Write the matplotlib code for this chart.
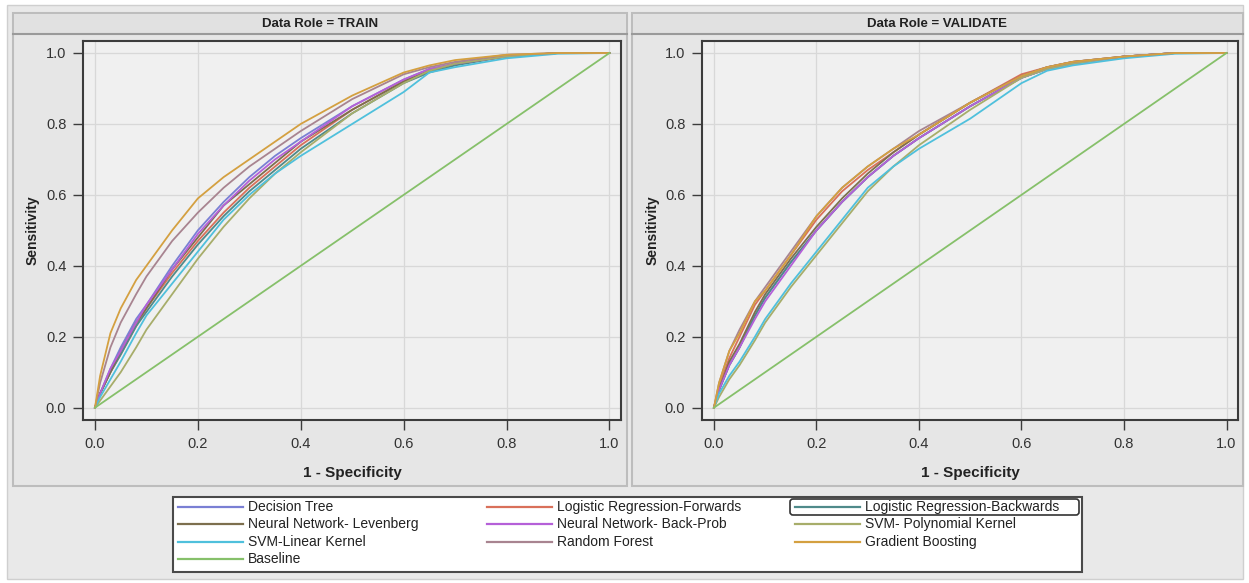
import matplotlib.pyplot as plt
from matplotlib.patches import Rectangle, FancyBboxPatch

plt.rcParams['font.family'] = ['Liberation Sans', 'DejaVu Sans']

# 1 - specificity points where the curves were read
fpr = [0, .01, .03, .05, .08, .1, .15, .2, .25, .3, .35, .4, .5, .6, .65, .7, .8, .9, 1.0]

# sensitivity, TRAIN
train_decision_tree = [0, .04, .11, .17, .25, .29, .40, .50, .58, .65, .71, .76, .85, .925, .955, .97, .99, 1, 1]
train_lr_forwards = [0, .04, .10, .15, .23, .28, .38, .47, .55, .62, .68, .74, .84, .92, .95, .97, .99, 1, 1]
train_lr_backwards = [0, .04, .10, .15, .23, .27, .37, .46, .54, .61, .67, .73, .83, .915, .945, .965, .99, 1, 1]
train_nn_levenberg = [0, .04, .10, .16, .24, .28, .39, .48, .57, .63, .69, .75, .84, .92, .95, .97, .99, 1, 1]
train_nn_backprop = [0, .04, .11, .16, .24, .29, .39, .49, .57, .64, .70, .75, .85, .925, .955, .97, .99, 1, 1]
train_svm_poly = [0, .02, .06, .10, .17, .22, .32, .42, .51, .59, .66, .72, .83, .915, .95, .97, .99, 1, 1]
train_svm_linear = [0, .03, .08, .13, .21, .26, .35, .44, .53, .60, .66, .71, .80, .89, .945, .96, .985, .998, 1]
train_random_forest = [0, .07, .17, .24, .32, .37, .47, .55, .62, .68, .73, .78, .87, .94, .96, .975, .995, 1, 1]
train_grad_boosting = [0, .09, .21, .28, .36, .40, .50, .59, .65, .70, .75, .80, .88, .945, .965, .98, .995, 1, 1]

# sensitivity, VALIDATE
val_decision_tree = [0, .05, .12, .17, .26, .31, .41, .50, .58, .65, .71, .76, .85, .93, .955, .97, .99, 1, 1]
val_lr_forwards = [0, .06, .14, .20, .29, .33, .43, .53, .61, .67, .72, .77, .86, .94, .96, .975, .99, 1, 1]
val_lr_backwards = [0, .05, .12, .17, .26, .31, .41, .50, .58, .65, .71, .76, .85, .93, .955, .97, .99, 1, 1]
val_nn_levenberg = [0, .05, .13, .18, .27, .32, .42, .51, .59, .66, .72, .77, .86, .935, .96, .975, .99, 1, 1]
val_nn_backprop = [0, .05, .12, .17, .25, .30, .40, .50, .58, .65, .71, .76, .85, .93, .955, .97, .99, 1, 1]
val_svm_poly = [0, .03, .08, .12, .19, .24, .34, .43, .52, .61, .68, .74, .84, .93, .955, .97, .99, 1, 1]
val_svm_linear = [0, .04, .09, .13, .20, .25, .35, .44, .53, .62, .68, .73, .815, .915, .95, .965, .985, .998, 1]
val_random_forest = [0, .07, .16, .22, .30, .34, .44, .54, .62, .68, .73, .78, .86, .935, .96, .975, .99, 1, 1]
val_grad_boosting = [0, .07, .16, .21, .30, .33, .43, .54, .62, .68, .73, .77, .86, .935, .96, .975, .99, 1, 1]

baseline_x = [0, 1]
baseline_y = [0, 1]

labels = ['Decision Tree', 'Logistic Regression-Forwards', 'Logistic Regression-Backwards',
          'Neural Network- Levenberg', 'Neural Network- Back-Prob', 'SVM- Polynomial Kernel',
          'SVM-Linear Kernel', 'Random Forest', 'Gradient Boosting']
colors = ['#7a7fd4', '#d9705a', '#4f8a8a', '#7d6f4e', '#b560d8', '#a7ad6a',
          '#4fc0dc', '#a88490', '#d4a040']
baseline_color = '#86c06a'

train_curves = [train_decision_tree, train_lr_forwards, train_lr_backwards, train_nn_levenberg,
                train_nn_backprop, train_svm_poly, train_svm_linear, train_random_forest,
                train_grad_boosting]
val_curves = [val_decision_tree, val_lr_forwards, val_lr_backwards, val_nn_levenberg,
              val_nn_backprop, val_svm_poly, val_svm_linear, val_random_forest,
              val_grad_boosting]

W, H = 1249, 583
fig = plt.figure(figsize=(W / 100, H / 100), dpi=100)
fig.patch.set_facecolor('white')

# background layer in pixel coordinates
bg = fig.add_axes([0, 0, 1, 1])
bg.set_xlim(0, W)
bg.set_ylim(H, 0)
bg.axis('off')
bg.add_patch(Rectangle((7, 5), 1236, 574, fc='#e9e9e9', ec='#cfcfcf', lw=1))

panels = [(13, 627, 'Data Role = TRAIN'), (632, 1243, 'Data Role = VALIDATE')]
for x0, x1, title in panels:
    bg.add_patch(Rectangle((x0, 13), x1 - x0, 473, fc='#e6e6e6', ec='#bdbdbd', lw=1.5))
    bg.add_patch(Rectangle((x0 + 1, 14), x1 - x0 - 2, 20, fc='#e1e1e1', ec='none'))
    bg.plot([x0, x1], [34, 34], color='#9a9a9a', lw=1.5)
    bg.text((x0 + x1) / 2, 24, title, ha='center', va='center', fontsize=9.5,
            fontweight='bold', color='#222222')

# legend
bg.add_patch(Rectangle((173, 497), 909, 75, fc='white', ec='#4a4a4a', lw=1.5))
col_x = [178, 487, 795]
row_y = [507, 524, 542, 559]
for i in range(len(labels)):
    cx = col_x[i % 3]
    ry = row_y[i // 3]
    bg.plot([cx, cx + 65], [ry, ry], color=colors[i], lw=1.6)
    bg.text(cx + 70, ry, labels[i], ha='left', va='center', fontsize=10, color='#222222')
bg.plot([col_x[0], col_x[0] + 65], [row_y[3], row_y[3]], color=baseline_color, lw=1.6)
bg.text(col_x[0] + 70, row_y[3], 'Baseline', ha='left', va='center', fontsize=10, color='#222222')
bg.add_patch(FancyBboxPatch((790, 499), 289, 16, boxstyle='round,pad=0,rounding_size=3',
                            fc='none', ec='#333333', lw=1.2))

axes_pos = [[83 / W, 1 - 420 / H, 538 / W, 379 / H],
            [702 / W, 1 - 420 / H, 536 / W, 379 / H]]

for pos, curves in zip(axes_pos, [train_curves, val_curves]):
    ax = fig.add_axes(pos)
    ax.set_facecolor('#f0f0f0')
    for tpr, c in zip(curves, colors):
        ax.plot(fpr, tpr, color=c, lw=1.3)
    ax.plot(baseline_x, baseline_y, color=baseline_color, lw=1.3)
    ax.set_xlim(-0.0233, 1.0224)
    ax.set_ylim(-0.0347, 1.0338)
    ticks = [0.0, 0.2, 0.4, 0.6, 0.8, 1.0]
    ax.set_xticks(ticks)
    ax.set_yticks(ticks)
    ax.set_xticklabels(['%.1f' % t for t in ticks])
    ax.set_yticklabels(['%.1f' % t for t in ticks])
    ax.grid(True, color='#d8d8d8', lw=0.9)
    ax.set_axisbelow(True)
    for s in ax.spines.values():
        s.set_color('#3c3c3c')
        s.set_linewidth(1.5)
    ax.tick_params(length=7, width=1, color='#3c3c3c', labelsize=10.5,
                   labelcolor='#333333', pad=5)
    ax.set_xlabel('1 - Specificity', fontsize=11, fontweight='bold', color='#222222')
    ax.set_ylabel('Sensitivity', fontsize=10, fontweight='bold', color='#222222')
    ax.xaxis.set_label_coords(0.5, -0.121)
    ax.yaxis.set_label_coords(-0.08, 0.5)

fig.savefig('out.png', dpi=100)
